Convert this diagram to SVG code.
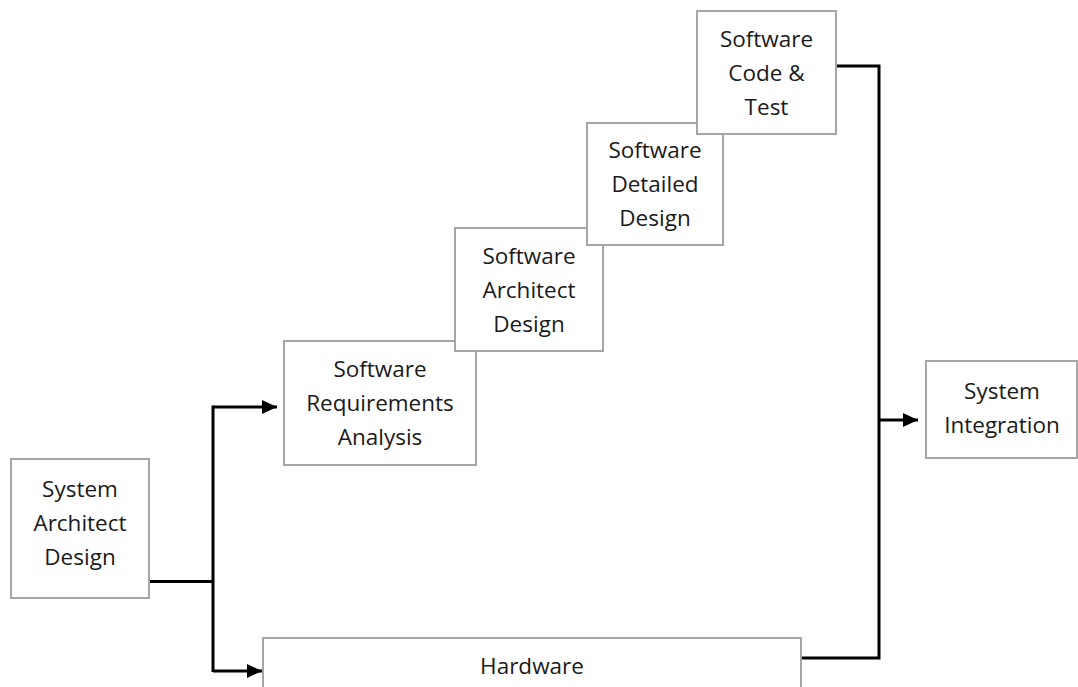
<svg xmlns="http://www.w3.org/2000/svg" width="1078" height="687" viewBox="0 0 1078 687">
<style>
.box{fill:#ffffff;stroke:#a6a6a6;stroke-width:2}
.lbl{font-family:"Open Sans","Noto Sans",sans-serif;font-size:22.5px;fill:#1a1a1a;text-anchor:middle}
.con{fill:none;stroke:#000000;stroke-width:3}
</style>
<defs>
<marker id="ah" markerUnits="userSpaceOnUse" markerWidth="15" markerHeight="14" refX="15" refY="7" orient="auto">
<path d="M0,0 L15,7 L0,14 Z" fill="#000000"/>
</marker>
</defs>
<rect width="1078" height="687" fill="#ffffff"/>
<g id="connectors">
<path class="con" d="M149,581.5 H213" stroke-width="4.5"/>
<path class="con" d="M213,405.5 V672"/>
<path class="con" d="M213,407 H277" marker-end="url(#ah)"/>
<path class="con" d="M213,671 H262" marker-end="url(#ah)"/>
<path class="con" d="M836,66 H879 V658 H801"/>
<path class="con" d="M879,420 H918" marker-end="url(#ah)"/>
</g>
<g id="system-architect-design">
<rect class="box" x="11" y="459" width="138" height="139"/>
<text class="lbl" x="80" y="497">System</text>
<text class="lbl" x="80" y="531">Architect</text>
<text class="lbl" x="80" y="565">Design</text>
</g>
<g id="software-requirements-analysis">
<rect class="box" x="284" y="341" width="192" height="124"/>
<text class="lbl" x="380" y="377">Software</text>
<text class="lbl" x="380" y="411">Requirements</text>
<text class="lbl" x="380" y="445">Analysis</text>
</g>
<g id="software-architect-design">
<rect class="box" x="455" y="228" width="148" height="123"/>
<text class="lbl" x="529" y="264">Software</text>
<text class="lbl" x="529" y="298">Architect</text>
<text class="lbl" x="529" y="332">Design</text>
</g>
<g id="software-detailed-design">
<rect class="box" x="587" y="123" width="136" height="122"/>
<text class="lbl" x="655" y="158">Software</text>
<text class="lbl" x="655" y="192">Detailed</text>
<text class="lbl" x="655" y="226">Design</text>
</g>
<g id="software-code-test">
<rect class="box" x="697" y="11" width="139" height="123"/>
<text class="lbl" x="766.5" y="47">Software</text>
<text class="lbl" x="766.5" y="81">Code &amp;</text>
<text class="lbl" x="766.5" y="115">Test</text>
</g>
<g id="system-integration">
<rect class="box" x="926" y="361" width="151" height="97"/>
<text class="lbl" x="1002" y="399">System</text>
<text class="lbl" x="1002" y="433">Integration</text>
</g>
<g id="hardware">
<rect class="box" x="263" y="638" width="538" height="70"/>
<text class="lbl" x="532" y="674">Hardware</text>
</g>
</svg>
